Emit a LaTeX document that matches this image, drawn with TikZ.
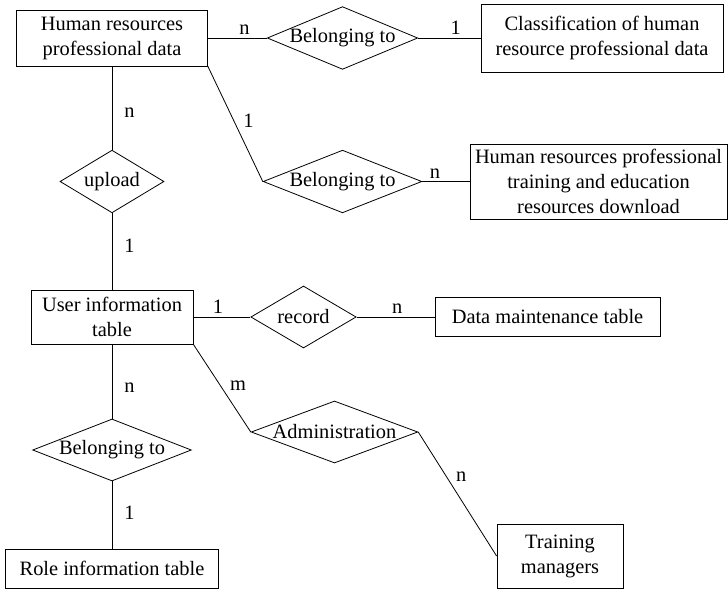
\documentclass[tikz,border=0pt]{standalone}
\usepackage{fontspec}
\setmainfont{Liberation Serif}
\usetikzlibrary{positioning, shapes.geometric}

\begin{document}
\begin{tikzpicture}[x=0.75pt, y=-0.75pt, line width=0.6pt,
        entity/.style={draw, rectangle, align=center, inner sep=0pt, font=\fontsize{15.3}{18.75}\selectfont},
        relation/.style={draw, diamond, inner sep=0pt, aspect=2.5, font=\fontsize{15.3}{18.75}\selectfont},
        card/.style={inner sep=2pt, font=\fontsize{15.3}{18.75}\selectfont}]
                \useasboundingbox (0,0) rectangle (728,589);
                % entities
                \node[entity, minimum width=143.25pt, minimum height=42pt] (hrdata) at (112,38) {Human resources\\professional data};
                \node[entity, minimum width=181.5pt, minimum height=51pt] (classif) at (602,38) {Classification of human\\resource professional data};
                \node[entity, minimum width=192.75pt, minimum height=56.25pt] (download) at (598.5,181.5) {Human resources professional\\training and education\\resources download};
                \node[entity, minimum width=121.5pt, minimum height=40.5pt] (user) at (112,317) {User information\\table};
                \node[entity, minimum width=168.75pt, minimum height=29.25pt] (maint) at (547.5,317) {Data maintenance table};
                \node[entity, minimum width=94.5pt, minimum height=48pt] (trainmgr) at (560,556) {Training\\managers};
                \node[entity, minimum width=160pt, minimum height=29.25pt] (role) at (112,568.5) {Role information table};
                % relations
                \node[relation, aspect=2.4, minimum width=111.75pt, minimum height=46.5pt] (belong1) at (342.5,38) {Belonging to};
                \node[relation, minimum width=119pt, minimum height=47pt] (belong2) at (342.5,181.5) {Belonging to};
                \node[relation, aspect=1.65, minimum width=78pt, minimum height=47pt] (upload) at (112,181.5) {upload};
                \node[relation, aspect=1.7, minimum width=79pt, minimum height=46.5pt] (record) at (303.5,317) {record};
                \node[relation, aspect=2.7, minimum width=125pt, minimum height=46.5pt, inner xsep=-8pt] (admin) at (334.5,432) {Administration};
                \node[relation, minimum width=119pt, minimum height=46.5pt] (belong3) at (112,450) {Belonging to};
                % connectors
                \draw (hrdata.east) -- node[card, above, pos=.62] (c1) {n} (belong1.west);
                \draw (belong1.east) -- node[card, above, pos=.6] (c2) {1} (classif.west);
                \draw (hrdata.south east) -- node[card, right=5pt, pos=.47] (c3) {1} (belong2.west);
                \draw (belong2.east) -- node[card, above, pos=.27] (c4) {n} (download.west);
                \draw (hrdata.south) -- node[card, right=7pt, pos=.55] (c5) {n} (upload.north);
                \draw (upload.south) -- node[card, right=7pt, pos=.43] (c6) {1} (user.north);
                \draw (user.east) -- node[card, above, pos=.43] (c7) {1} (record.west);
                \draw (record.east) -- node[card, above, pos=.52] (c8) {n} (maint.west);
                \draw (user.south east) -- node[card, right=5pt, pos=.47] (c9) {m} (admin.west);
                \draw (admin.east) -- node[card, right=5pt, pos=.36] (c10) {n} (trainmgr.west);
                \draw (user.south) -- node[card, right=7pt, pos=.59] (c11) {n} (belong3.north);
                \draw (belong3.south) -- node[card, right=7pt, pos=.46] (c12) {1} (role.north);
            \end{tikzpicture}
\end{document}
